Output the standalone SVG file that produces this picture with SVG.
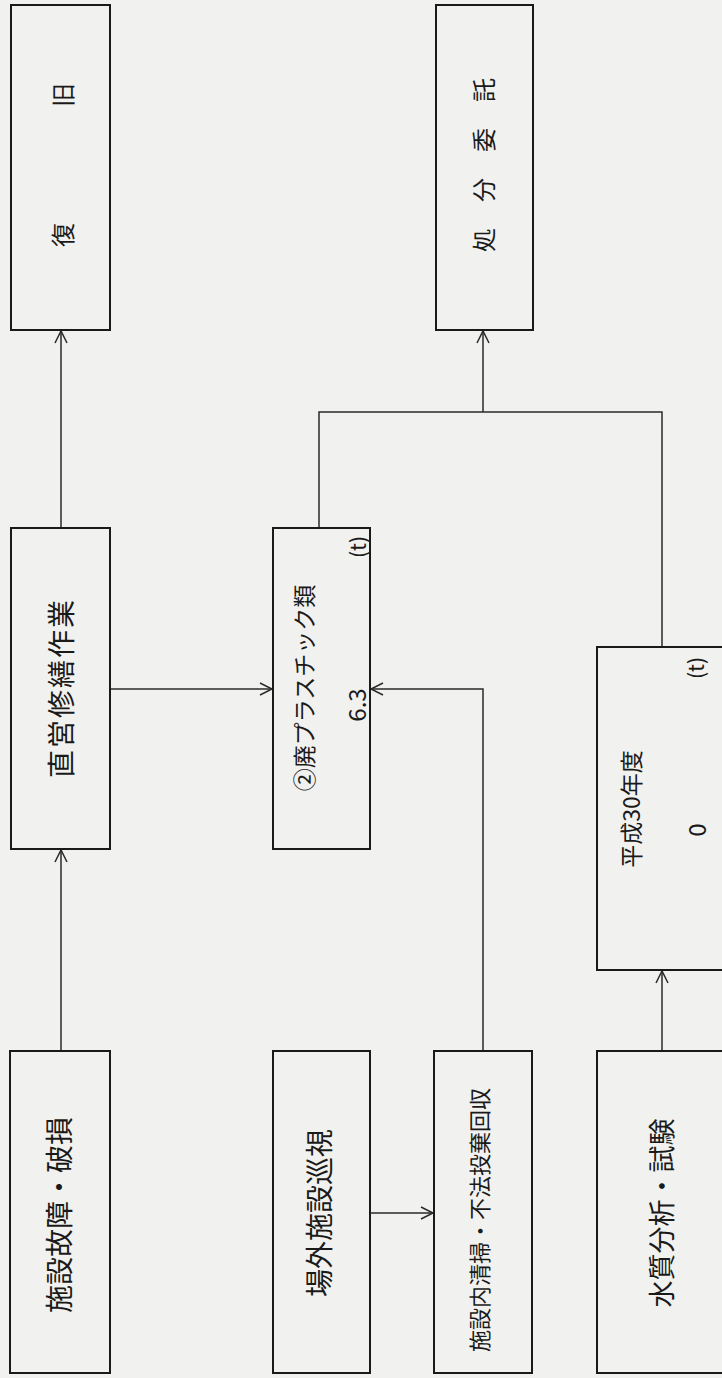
<svg xmlns="http://www.w3.org/2000/svg" width="722" height="1378" viewBox="0 0 722 1378">
<style>
.box{fill:none;stroke:#1a1a1a;stroke-width:2}
.ln{fill:none;stroke:#2a2a2a;stroke-width:1.5}
.t{font-family:"Noto Sans CJK JP","Noto Sans",sans-serif;fill:#1a1a1a;text-anchor:middle;dominant-baseline:central}
</style>
<defs>
<marker id="ah" markerUnits="userSpaceOnUse" markerWidth="16" markerHeight="16" refX="13" refY="7" orient="auto">
<path d="M1,1 L13,7 L1,13" fill="none" stroke="#2a2a2a" stroke-width="1.5"/>
</marker>
</defs>
<rect x="0" y="0" width="722" height="1378" fill="#f1f1ef"/>

<g id="connectors">
<line class="ln" x1="61" y1="1051" x2="61" y2="850" marker-end="url(#ah)"/>
<line class="ln" x1="61" y1="528" x2="61" y2="331" marker-end="url(#ah)"/>
<line class="ln" x1="110" y1="689" x2="272" y2="689" marker-end="url(#ah)"/>
<line class="ln" x1="370" y1="1213" x2="433" y2="1213" marker-end="url(#ah)"/>
<polyline class="ln" points="483,1051 483,689 371,689" marker-end="url(#ah)"/>
<polyline class="ln" points="319,528 319,412 662,412 662,647"/>
<line class="ln" x1="483" y1="412" x2="483" y2="331" marker-end="url(#ah)"/>
<line class="ln" x1="662" y1="1051" x2="662" y2="971" marker-end="url(#ah)"/>
</g>

<g id="node-fukkyu">
<rect class="box" x="11" y="5" width="99" height="325"/>
<text class="t" font-size="24" transform="rotate(-90 61 165)" x="61" y="165">復<tspan dx="116">旧</tspan></text>
</g>

<g id="node-shobun">
<rect class="box" x="436" y="5" width="97" height="325"/>
<text class="t" font-size="24" letter-spacing="26" transform="rotate(-90 482 165)" x="495" y="165">処分委託</text>
</g>

<g id="node-chokuei">
<rect class="box" x="11" y="528" width="99" height="321"/>
<text class="t" font-size="28" letter-spacing="2" transform="rotate(-90 60 689)" x="61" y="689">直営修繕作業</text>
</g>

<g id="node-haipura">
<rect class="box" x="273" y="528" width="97" height="321"/>
<text class="t" font-size="23" transform="rotate(-90 303 688)" x="303" y="688">②廃プラスチック類</text>
<text class="t" font-size="24" transform="rotate(-90 355 705)" x="355" y="705">6.3</text>
<text class="t" font-size="21" transform="rotate(-90 357 547)" x="357" y="547">(t)</text>
</g>

<g id="node-heisei">
<rect class="box" x="597" y="647" width="130" height="323"/>
<text class="t" font-size="23" transform="rotate(-90 630 809)" x="630" y="809">平成30年度</text>
<text class="t" font-size="24" transform="rotate(-90 695 830)" x="695" y="830">0</text>
<text class="t" font-size="21" transform="rotate(-90 695 668)" x="695" y="668">(t)</text>
</g>

<g id="node-koshou">
<rect class="box" x="10" y="1051" width="100" height="322"/>
<text class="t" font-size="28" transform="rotate(-90 58 1215)" x="58" y="1215">施設故障・破損</text>
</g>

<g id="node-jungai">
<rect class="box" x="273" y="1051" width="97" height="322"/>
<text class="t" font-size="28" transform="rotate(-90 318 1213)" x="318" y="1213">場外施設巡視</text>
</g>

<g id="node-seisou">
<rect class="box" x="434" y="1051" width="98" height="322"/>
<text class="t" font-size="22" transform="rotate(-90 478 1220)" x="478" y="1220">施設内清掃・不法投棄回収</text>
</g>

<g id="node-suishitsu">
<rect class="box" x="597" y="1051" width="130" height="322"/>
<text class="t" font-size="27" transform="rotate(-90 660 1213)" x="660" y="1213">水質分析・試験</text>
</g>
</svg>
